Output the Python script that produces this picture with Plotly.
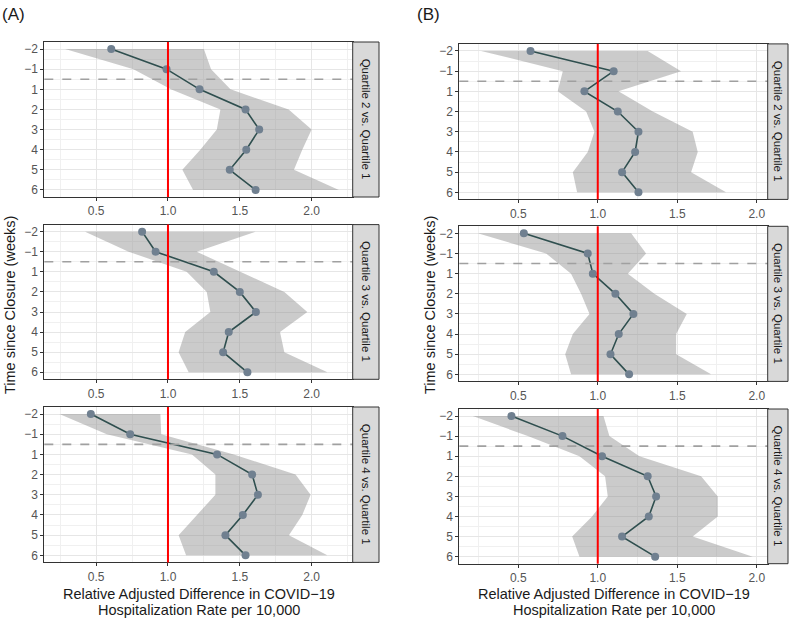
import plotly.graph_objects as go

# 주차 (범주형 위치 1..8, 0주차 없음)
weeks = ["\u22122", "\u22121", "1", "2", "3", "4", "5", "6"]
strip_labels = ["Quartile 2 vs. Quartile 1", "Quartile 3 vs. Quartile 1", "Quartile 4 vs. Quartile 1"]

# (A) 추정치 / 하한 / 상한
a_q2_est = [0.605, 0.99, 1.22, 1.54, 1.635, 1.545, 1.43, 1.61]
a_q2_lo = [0.284, 0.76, 1.02, 1.365, 1.34, 1.225, 1.10, 1.175]
a_q2_hi = [1.25, 1.30, 1.435, 1.84, 2.0, 1.935, 1.877, 2.19]

a_q3_est = [0.82, 0.914, 1.319, 1.50, 1.612, 1.423, 1.384, 1.553]
a_q3_lo = [0.423, 0.726, 1.13, 1.27, 1.295, 1.12, 1.074, 1.144]
a_q3_hi = [1.61, 1.20, 1.50, 1.81, 1.97, 1.78, 1.81, 2.11]

a_q4_est = [0.463, 0.737, 1.342, 1.586, 1.626, 1.521, 1.40, 1.54]
a_q4_lo = [0.244, 0.574, 1.167, 1.33, 1.33, 1.20, 1.074, 1.126]
a_q4_hi = [0.947, 0.953, 1.458, 1.888, 1.993, 1.935, 1.842, 2.109]

# (B)
b_q2_est = [0.577, 1.10, 0.916, 1.126, 1.256, 1.235, 1.153, 1.256]
b_q2_lo = [0.266, 0.78, 0.748, 0.927, 0.979, 0.937, 0.843, 0.87]
b_q2_hi = [1.314, 1.524, 1.13, 1.346, 1.597, 1.629, 1.587, 1.807]

b_q3_est = [0.535, 0.937, 0.969, 1.111, 1.224, 1.132, 1.08, 1.197]
b_q3_lo = [0.245, 0.675, 0.832, 0.895, 0.948, 0.843, 0.795, 0.832]
b_q3_hi = [1.21, 1.304, 1.189, 1.356, 1.56, 1.493, 1.493, 1.713]

b_q4_est = [0.457, 0.778, 1.027, 1.314, 1.367, 1.321, 1.153, 1.361]
b_q4_lo = [0.214, 0.56, 0.885, 1.046, 1.063, 0.964, 0.839, 0.885]
b_q4_hi = [1.036, 1.073, 1.262, 1.65, 1.755, 1.755, 1.597, 1.975]

x_ticks = [0.5, 1.0, 1.5, 2.0]
x_tick_text = ["0.5", "1.0", "1.5", "2.0"]

W, H = 800, 623
FONT = "Liberation Sans, Arial, sans-serif"

# 패널 배치 (픽셀)
panels = [
    # (est, lo, hi, label, left, right, top, bottom, xrange, strip_right)
    (a_q2_est, a_q2_lo, a_q2_hi, strip_labels[0], 44.3, 352.7, 42.0, 197.0, [0.139, 2.286], 379),
    (a_q3_est, a_q3_lo, a_q3_hi, strip_labels[1], 44.3, 352.7, 224.6, 379.3, [0.139, 2.286], 379),
    (a_q4_est, a_q4_lo, a_q4_hi, strip_labels[2], 44.3, 352.7, 407.0, 562.4, [0.139, 2.286], 379),
    (b_q2_est, b_q2_lo, b_q2_hi, strip_labels[0], 459.3, 767.7, 43.9, 199.4, [0.129, 2.069], 788),
    (b_q3_est, b_q3_lo, b_q3_hi, strip_labels[1], 459.3, 767.7, 226.3, 381.4, [0.129, 2.069], 788),
    (b_q4_est, b_q4_lo, b_q4_hi, strip_labels[2], 459.3, 767.7, 409.0, 563.7, [0.129, 2.069], 788),
]

pos = list(range(1, len(weeks) + 1))

fig = go.Figure()
shapes = []
annotations = []
layout_axes = {}

for i, (est, lo, hi, label, left, right, top, bottom, xr, strip_r) in enumerate(panels, start=1):
    sx = "" if i == 1 else str(i)
    xref, yref = "x" + sx, "y" + sx

    # 신뢰구간 리본
    fig.add_trace(
        go.Scatter(
            x=list(lo) + list(hi)[::-1],
            y=pos + pos[::-1],
            fill="toself",
            fillcolor="rgba(140,140,140,0.45)",
            line={"width": 0},
            mode="lines",
            hoverinfo="skip",
            showlegend=False,
            xaxis=xref,
            yaxis=yref,
        )
    )
    # 추정치 선 + 점
    fig.add_trace(
        go.Scatter(
            x=est,
            y=pos,
            mode="lines+markers",
            line={"color": "#2f4f4f", "width": 1.6},
            marker={"color": "#708090", "size": 8},
            showlegend=False,
            xaxis=xref,
            yaxis=yref,
        )
    )

    # 기준선 x=1, 휴교 시점 점선
    shapes.append(dict(type="line", xref=xref, yref=yref + " domain", x0=1, x1=1, y0=0, y1=1,
                       line={"color": "#ff0000", "width": 2}))
    shapes.append(dict(type="line", xref=xref + " domain", yref=yref, x0=0, x1=1, y0=2.5, y1=2.5,
                       line={"color": "#a0a0a0", "width": 1.6, "dash": "dash"}))
    # 스트립
    shapes.append(dict(type="rect", xref="paper", yref="paper",
                       x0=right / W, x1=strip_r / W, y0=1 - bottom / H, y1=1 - top / H,
                       fillcolor="#d9d9d9", line={"color": "#333333", "width": 1}))
    annotations.append(dict(text=label, xref="paper", yref="paper",
                            x=(right + strip_r) / 2 / W, y=1 - (top + bottom) / 2 / H,
                            xanchor="center", yanchor="middle",
                            showarrow=False, textangle=90,
                            font={"family": FONT, "size": 11.5, "color": "#1a1a1a"}))

    layout_axes["xaxis" + sx] = dict(
        domain=[left / W, right / W], anchor=yref, range=xr,
        tickvals=x_ticks, ticktext=x_tick_text,
        showgrid=True, gridcolor="#e6e6e6", gridwidth=1,
        minor=dict(dtick=0.25, tick0=0, showgrid=True, gridcolor="#f0f0f0", gridwidth=0.6),
        showline=True, mirror=True, linecolor="#333333", linewidth=1,
        ticks="outside", ticklen=3, tickcolor="#333333",
        tickfont={"family": FONT, "size": 12, "color": "#555555"},
        zeroline=False,
    )
    layout_axes["yaxis" + sx] = dict(
        domain=[1 - bottom / H, 1 - top / H], anchor=xref, range=[8.35, 0.65],
        tickvals=pos, ticktext=weeks,
        showgrid=True, gridcolor="#e6e6e6", gridwidth=1,
        minor=dict(tickvals=[p + 0.5 for p in pos[:-1]], showgrid=True, gridcolor="#f0f0f0", gridwidth=0.6),
        showline=True, mirror=True, linecolor="#333333", linewidth=1,
        ticks="outside", ticklen=3, tickcolor="#333333",
        tickfont={"family": FONT, "size": 12, "color": "#555555"},
        zeroline=False,
    )

# 축 제목과 패널 라벨
title_font = {"family": FONT, "size": 14.5, "color": "#1a1a1a"}
x_title_lines = [("Relative Adjusted Difference in COVID\u221219", 594), ("Hospitalization Rate per 10,000", 610)]
for cx, ty_x in [(198.5, 10), (613.5, 430)]:
    for line_text, ly in x_title_lines:
        annotations.append(dict(text=line_text, xref="paper", yref="paper", x=cx / W, y=1 - ly / H,
                                xanchor="center", yanchor="middle",
                                showarrow=False, font=title_font))
    annotations.append(dict(text="Time since Closure (weeks)", xref="paper", yref="paper",
                            x=ty_x / W, y=1 - 305 / H, xanchor="center", yanchor="middle",
                            showarrow=False, textangle=-90, font=title_font))
annotations.append(dict(text="(A)", xref="paper", yref="paper", x=0, y=1 - 14 / H,
                        xanchor="left", yanchor="middle",
                        showarrow=False, font={"family": FONT, "size": 17, "color": "#1a1a1a"}))
annotations.append(dict(text="(B)", xref="paper", yref="paper", x=415 / W, y=1 - 14 / H,
                        xanchor="left", yanchor="middle",
                        showarrow=False, font={"family": FONT, "size": 17, "color": "#1a1a1a"}))

fig.update_layout(
    width=W,
    height=H,
    margin={"l": 0, "r": 0, "t": 0, "b": 0},
    paper_bgcolor="white",
    plot_bgcolor="white",
    shapes=shapes,
    annotations=annotations,
    showlegend=False,
    **layout_axes,
)

# 브라우저 기본 body 여백 제거
fig.write_html("out.html", config={"displayModeBar": False}, post_script="document.body.style.margin='0';")
